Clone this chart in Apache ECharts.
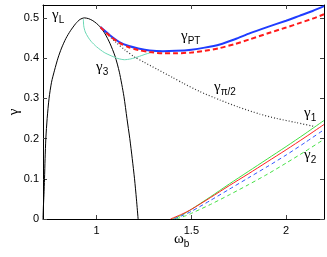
<!DOCTYPE html>
<html><head><meta charset="utf-8">
<script src="https://cdn.jsdelivr.net/npm/echarts@6/dist/echarts.min.js"></script>
<style>html,body{margin:0;padding:0;background:#fff}#c{width:327px;height:257px}</style>
</head><body><div id="c"></div>
<script>
const xTicks = [1, 1.5, 2];
const yTicks = [0, 0.1, 0.2, 0.3, 0.4, 0.5];
const gammaL = [[0.717,0],[0.719,0.03],[0.722,0.06],[0.725,0.1],[0.728,0.15],[0.732,0.2],[0.739,0.25],[0.749,0.3],[0.762,0.34],[0.778,0.37],[0.796,0.4],[0.815,0.425],[0.838,0.449],[0.862,0.468],[0.89,0.486],[0.912,0.496],[0.935,0.5],[0.958,0.498],[0.98,0.493],[1.0,0.486],[1.02,0.477],[1.045,0.46],[1.07,0.437],[1.097,0.405],[1.12,0.365],[1.144,0.305],[1.16,0.25],[1.175,0.2],[1.188,0.15],[1.2,0.1],[1.21,0.05],[1.219,0]];
const gamma3 = [[0.93,0.497],[0.932,0.48],[0.94,0.465],[0.955,0.452],[0.97,0.442],[1.0,0.428],[1.04,0.414],[1.08,0.405],[1.112,0.399],[1.147,0.396],[1.18,0.398],[1.217,0.403],[1.26,0.41],[1.305,0.416],[1.34,0.418]];
const gammaPT = [[1.02,0.477],[1.07,0.457],[1.12,0.44],[1.17,0.43],[1.22,0.424],[1.28,0.419],[1.35,0.417],[1.42,0.418],[1.5,0.421],[1.57,0.426],[1.65,0.434],[1.73,0.447],[1.81,0.462],[1.9,0.477],[2.0,0.493],[2.07,0.505],[2.14,0.517],[2.2,0.529]];
const gammaPTdash = [[1.02,0.477],[1.07,0.455],[1.12,0.438],[1.17,0.427],[1.22,0.42],[1.28,0.415],[1.35,0.412],[1.42,0.412],[1.5,0.414],[1.57,0.418],[1.65,0.425],[1.73,0.435],[1.81,0.447],[1.9,0.461],[2.0,0.476],[2.07,0.487],[2.14,0.498],[2.2,0.509]];
const gammaHalfPi = [[1.02,0.477],[1.06,0.458],[1.1,0.44],[1.15,0.42],[1.2,0.403],[1.25,0.39],[1.32,0.372],[1.4,0.352],[1.455,0.338],[1.544,0.317],[1.65,0.296],[1.75,0.278],[1.86,0.261],[1.95,0.25],[2.05,0.24],[2.15,0.23]];
const gamma1Green = [[1.40,0],[1.45,0.01],[1.5,0.024],[1.6,0.055],[1.7,0.087],[1.8,0.118],[1.9,0.149],[2.0,0.18],[2.1,0.212],[2.2,0.245]];
const gamma1Red = [[1.39,0],[1.45,0.012],[1.5,0.024],[1.6,0.053],[1.7,0.083],[1.8,0.112],[1.9,0.142],[2.0,0.172],[2.1,0.203],[2.2,0.235]];
const gamma2Blue = [[1.41,0],[1.45,0.008],[1.5,0.019],[1.6,0.046],[1.7,0.074],[1.8,0.102],[1.9,0.13],[2.0,0.159],[2.1,0.19],[2.2,0.222]];
const gamma2Green = [[1.42,0],[1.47,0.008],[1.5,0.014],[1.6,0.036],[1.7,0.06],[1.8,0.085],[1.9,0.111],[2.0,0.139],[2.1,0.168],[2.2,0.198]];

const XMIN = 0.717, XMAX = 2.2, YMIN = 0, YMAX = 0.532;
const chart = echarts.init(document.getElementById('c'), null, {renderer: 'canvas'});
const serif = 'Liberation Serif, DejaVu Serif, serif';
const axisCommon = {
  type: 'value', splitLine: {show: false},
  axisLine: {show: true, onZero: false, lineStyle: {color: '#000', width: 1}},
  axisTick: {show: true, inside: true, length: 4, lineStyle: {color: '#444'}}
};
const lbl = {color: '#000', fontSize: 11, fontFamily: 'Liberation Sans, Arial, sans-serif'};
function line(data, color, width, type, z) {
  return {type: 'line', data: data, showSymbol: false, symbol: 'none', smooth: 0.25,
    lineStyle: {color: color, width: width, type: type}, z: z || 2, silent: true, clip: true};
}
function glabel(x, y, main, sub) {
  return {type: 'text', left: x, top: y, style: {
    rich: {m: {fontFamily: serif, fontSize: 15, fill: '#000'}, s: {fontFamily: 'Liberation Sans, sans-serif', fontSize: 10, fill: '#000', padding: [9, 0, 0, 0]}},
    text: '{m|' + main + '}{s|' + sub + '}'
  }};
}
chart.setOption({
  animation: false,
  grid: {left: 43, right: 3, top: 5, bottom: 38, containLabel: false, outerBoundsMode: 'none'},
  xAxis: [
    Object.assign({}, axisCommon, {min: XMIN, max: XMAX, position: 'bottom',
      axisTick: Object.assign({}, axisCommon.axisTick, {customValues: xTicks}),
      axisLabel: Object.assign({}, lbl, {customValues: xTicks, margin: 6, formatter: v => String(v)})}),
    Object.assign({}, axisCommon, {min: XMIN, max: XMAX, position: 'top',
      axisTick: Object.assign({}, axisCommon.axisTick, {customValues: xTicks}),
      axisLabel: {show: false}})
  ],
  yAxis: [
    Object.assign({}, axisCommon, {min: YMIN, max: YMAX, position: 'left',
      axisTick: Object.assign({}, axisCommon.axisTick, {customValues: yTicks}),
      axisLabel: Object.assign({}, lbl, {customValues: yTicks, margin: 4, formatter: v => String(Math.round(v * 10) / 10)})}),
    Object.assign({}, axisCommon, {min: YMIN, max: YMAX, position: 'right',
      axisTick: Object.assign({}, axisCommon.axisTick, {customValues: yTicks}),
      axisLabel: {show: false}})
  ],
  series: [
    line(gammaL, '#000', 1, 'solid'),
    line(gamma3, '#6ad8b4', 1, 'solid'),
    line(gammaHalfPi, '#333', 1.2, [1, 2]),
    line(gammaPT, '#1f3cff', 2, 'solid', 3),
    line(gammaPTdash, '#ff1a1a', 2, [5, 3], 4),
    line(gamma1Green, '#44e044', 1, 'solid'),
    line(gamma1Red, '#ff2020', 1, 'solid', 3),
    line(gamma2Blue, '#3355ff', 1, [4, 3]),
    line(gamma2Green, '#44e044', 1, [4, 3])
  ],
  graphic: [
    glabel(52, 8, 'γ', 'L'),
    glabel(96, 60, 'γ', '3'),
    glabel(181, 29, 'γ', 'PT'),
    glabel(214, 80, 'γ', 'π/2'),
    glabel(304, 106, 'γ', '1'),
    glabel(304, 148, 'γ', '2'),
    {type: 'text', x: 14, y: 112, rotation: Math.PI / 2,
      style: {text: 'γ', fontFamily: serif, fontSize: 15, fill: '#000', align: 'center', verticalAlign: 'middle'}},
    {type: 'text', left: 174, top: 232, style: {
      rich: {m: {fontFamily: serif, fontSize: 15, fill: '#000'}, s: {fontFamily: 'Liberation Sans, sans-serif', fontSize: 10, fill: '#000', padding: [9, 0, 0, 0]}},
      text: '{m|ω}{s|b}'}}
  ]
});
</script></body></html>
